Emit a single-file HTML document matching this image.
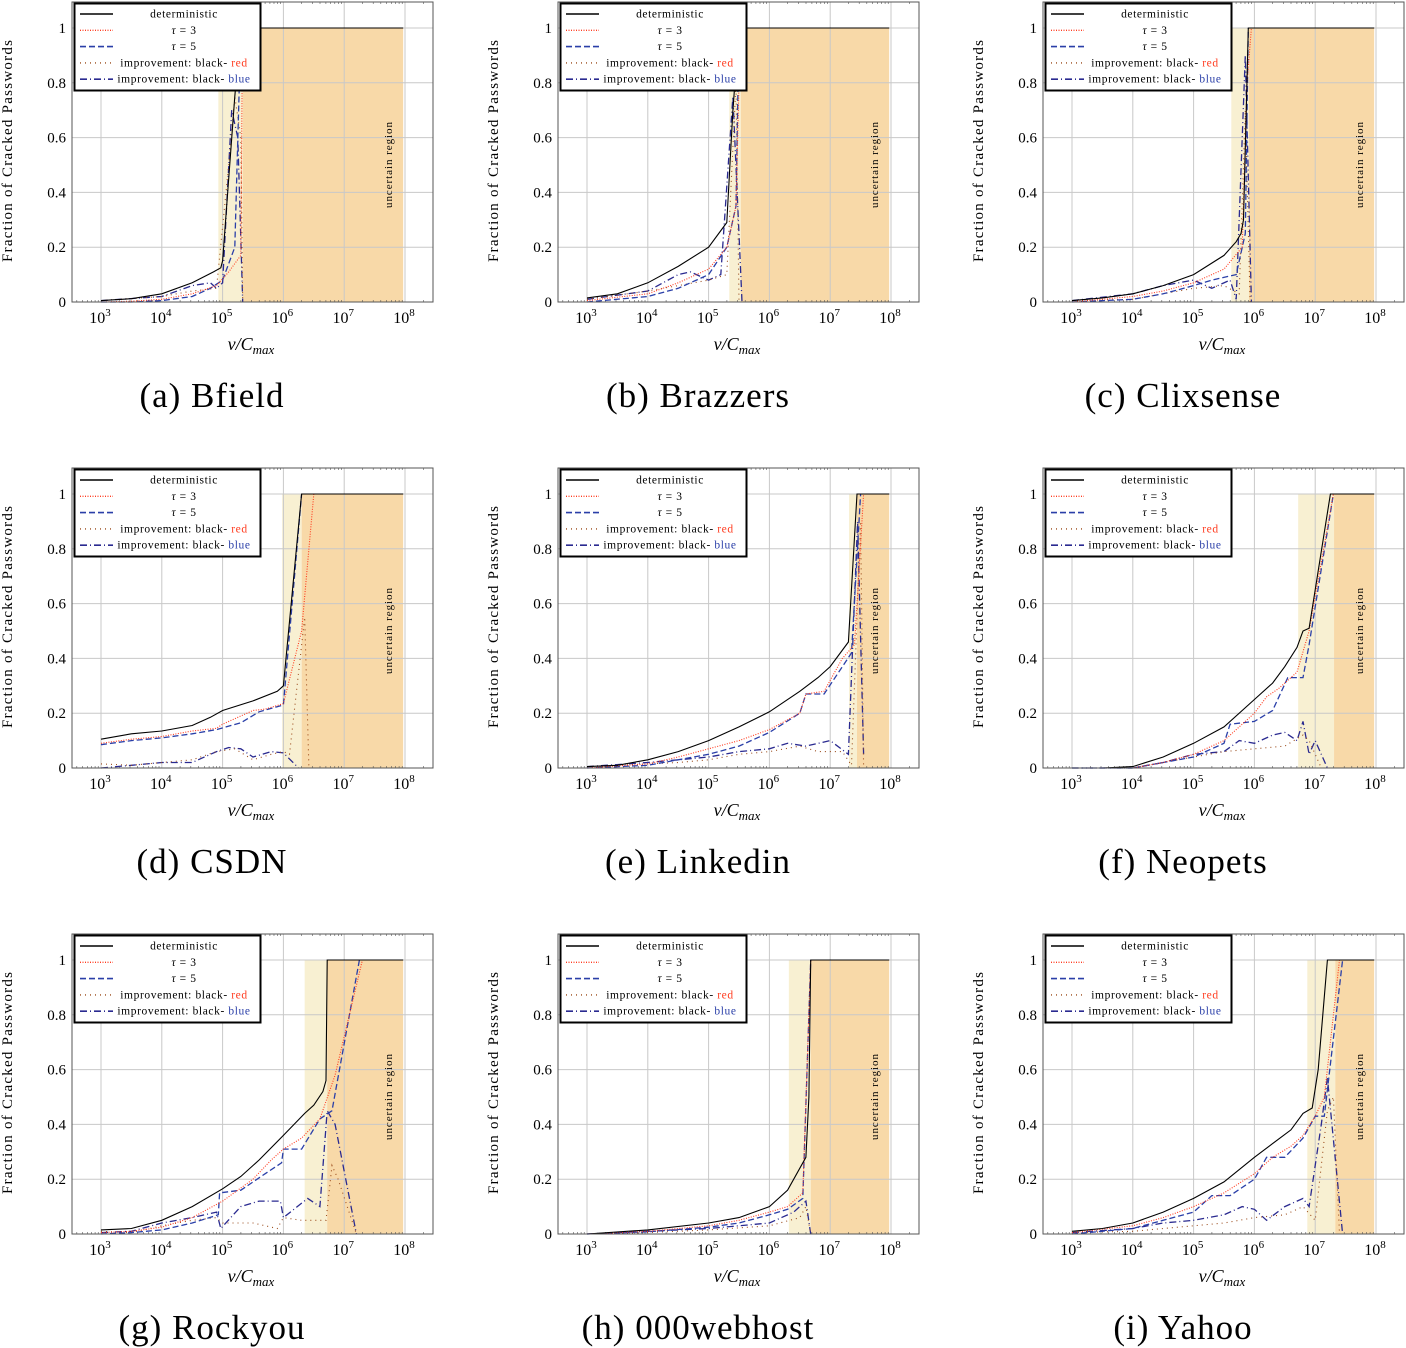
<!DOCTYPE html>
<html><head><meta charset="utf-8"><style>
body{margin:0;background:#fff}
svg{display:block;font-family:"Liberation Serif",serif}
</style></head><body>
<svg id="fig" width="1406" height="1348" viewBox="0 0 1406 1348"></svg>
<script>
// ----- data (x in log10 of v/Cmax, y fraction) -----
const panelNames = ["Bfield","Brazzers","Clixsense","CSDN","Linkedin","Neopets","Rockyou","000webhost","Yahoo"];
const panelLetters = ["a","b","c","d","e","f","g","h","i"];
const yellowStart = [4.93,5.34,5.62,5.98,7.31,6.72,6.35,6.32,6.87];
const orangeStart = [5.33,5.53,5.91,6.30,7.44,7.31,6.72,6.68,7.33];
const orangeEnd = 7.97;
const detX = [
 [3,3.5,4,4.5,4.85,4.97,5.0,5.2,5.3,7.97],
 [3,3.5,4,4.5,5,5.3,5.4,5.5,7.97],
 [3,3.5,4,4.5,5,5.5,5.7,5.78,5.82,5.9,7.97],
 [3,3.5,4,4.5,4.8,5,5.5,5.9,6.0,6.3,7.97],
 [3,3.5,4,4.5,5,5.5,6,6.5,6.8,7,7.3,7.44,7.97],
 [3,3.5,4,4.5,5,5.5,6,6.3,6.5,6.7,6.8,6.9,7.25,7.97],
 [3,3.5,4,4.5,5,5.3,5.6,6,6.35,6.5,6.65,6.7,6.72,7.97],
 [3,4,5,5.5,6,6.3,6.6,6.65,6.68,7.97],
 [3,3.5,4,4.5,5,5.5,6,6.3,6.6,6.8,6.95,7.05,7.2,7.97]];
const detY = [
 [0.005,0.012,0.03,0.07,0.11,0.125,0.15,0.75,1,1],
 [0.015,0.03,0.07,0.13,0.2,0.29,0.7,1,1],
 [0.005,0.015,0.03,0.06,0.1,0.17,0.22,0.25,0.3,1,1],
 [0.105,0.125,0.135,0.155,0.185,0.21,0.245,0.28,0.3,1,1],
 [0.005,0.01,0.03,0.06,0.1,0.15,0.205,0.28,0.33,0.37,0.46,1,1],
 [0,0,0.005,0.04,0.09,0.15,0.25,0.31,0.37,0.44,0.5,0.51,1,1],
 [0.015,0.02,0.05,0.1,0.165,0.21,0.27,0.36,0.44,0.47,0.52,0.56,1,1],
 [0,0.015,0.04,0.06,0.1,0.16,0.28,0.5,1,1],
 [0.01,0.02,0.04,0.08,0.13,0.19,0.28,0.33,0.38,0.44,0.46,0.6,1,1]];
const t3X = [
 [3,3.5,4,4.5,4.9,5.1,5.3,5.32,5.35],
 [3,4,4.5,5,5.3,5.45,5.5,5.55],
 [3,4,4.5,5,5.5,5.8,5.88,5.95],
 [3,3.5,4,4.5,4.9,5.0,5.5,5.7,6.0,6.3,6.5],
 [3,4,4.5,5,5.5,6,6.5,6.6,6.9,7.2,7.4,7.55],
 [3,4,4.5,5,5.5,5.8,6,6.2,6.4,6.6,6.7,6.9,7.3],
 [3,3.5,4,4.5,5,5.5,5.8,6.0,6.3,6.6,6.85,7.3],
 [3,4,5,5.5,6,6.3,6.55,6.68],
 [3,4,4.5,5,5.5,6,6.3,6.6,6.8,7,7.15,7.4]];
const t3Y = [
 [0,0.003,0.01,0.03,0.06,0.11,0.17,0.8,1],
 [0.005,0.03,0.07,0.12,0.2,0.35,0.8,1],
 [0,0.02,0.04,0.07,0.12,0.2,0.8,1],
 [0.09,0.105,0.115,0.135,0.145,0.16,0.21,0.215,0.235,0.5,1],
 [0,0.015,0.04,0.07,0.1,0.14,0.2,0.27,0.28,0.4,0.45,1],
 [0,0,0.02,0.05,0.1,0.16,0.2,0.26,0.29,0.33,0.35,0.5,1],
 [0.005,0.01,0.025,0.06,0.12,0.2,0.27,0.31,0.35,0.42,0.58,1],
 [0,0.01,0.03,0.05,0.08,0.1,0.15,1],
 [0.005,0.03,0.06,0.1,0.15,0.22,0.28,0.32,0.36,0.43,0.5,1]];
const t5X = [
 [3,3.5,4,4.5,4.8,5.0,5.2,5.27,5.3],
 [3,4,4.5,4.8,5,5.3,5.45,5.5],
 [3,4,4.5,5,5.3,5.7,5.85,5.9],
 [3,3.5,4,4.5,4.9,5.3,5.6,6.0,6.3],
 [3,4,4.5,5,5.5,6,6.5,6.6,6.9,7.2,7.35,7.5],
 [3,4,4.5,5,5.5,5.6,6,6.3,6.55,6.8,6.9,7.3],
 [3,3.5,4,4.5,4.93,4.95,5.3,5.7,5.97,6.0,6.3,6.6,6.8,7.25],
 [3,4,5,5.5,6,6.3,6.55,6.68],
 [3,4,4.5,5,5.3,5.6,6,6.2,6.5,6.8,7.0,7.15,7.45]];
const t5Y = [
 [0,0,0.005,0.02,0.05,0.08,0.2,0.75,1],
 [0,0.02,0.05,0.08,0.1,0.2,0.35,1],
 [0,0.01,0.03,0.06,0.08,0.1,0.25,1],
 [0.085,0.1,0.11,0.125,0.14,0.165,0.205,0.23,1],
 [0,0.01,0.03,0.05,0.08,0.13,0.2,0.27,0.27,0.37,0.42,1],
 [0,0,0.02,0.04,0.09,0.16,0.17,0.21,0.33,0.33,0.45,1],
 [0,0.005,0.015,0.04,0.07,0.15,0.16,0.22,0.26,0.31,0.31,0.42,0.45,1],
 [0,0.008,0.025,0.04,0.07,0.09,0.13,1],
 [0,0.02,0.05,0.08,0.14,0.14,0.2,0.28,0.28,0.35,0.43,0.43,1]];
const irX = [
 [3,4,4.5,4.9,5.1,5.2,5.3,5.33],
 [3,4,4.5,5,5.3,5.45,5.5],
 [3,4,4.5,5,5.5,5.75,5.85,5.93],
 [3,3.5,4,4.5,4.9,5.2,5.5,5.8,6.0,6.1,6.35,6.42],
 [3,4,4.5,5,5.5,6,6.5,6.8,7.2,7.35,7.5,7.55],
 [3,4,4.5,5,5.5,6,6.5,6.8,6.9,7.0,7.1],
 [3,3.5,4,4.5,4.9,5.0,5.5,5.9,6.0,6.3,6.7,6.8,6.9,7.2],
 [3,4,5,6,6.5,6.6,6.68],
 [3,4,4.5,5,5.5,6,6.5,6.8,7.0,7.2,7.3,7.4]];
const irY = [
 [0.005,0.02,0.04,0.05,0.5,0.75,0.6,0],
 [0.01,0.04,0.06,0.08,0.1,0.8,0],
 [0.005,0.01,0.03,0.05,0.06,0.03,0.7,0],
 [0.015,0.01,0.02,0.03,0.06,0.07,0.03,0.05,0.06,0.05,0.55,0],
 [0.005,0.015,0.02,0.03,0.05,0.06,0.08,0.06,0.06,0.01,0.9,0],
 [0,0,0.02,0.04,0.06,0.07,0.08,0.12,0.1,0.05,0],
 [0.01,0.005,0.03,0.05,0.06,0.04,0.04,0.02,0.06,0.05,0.05,0.25,0.2,0],
 [0,0.005,0.015,0.03,0.06,0.1,0],
 [0.005,0.01,0.02,0.03,0.04,0.06,0.07,0.1,0.05,0.45,0.5,0]];
const ibX = [
 [3,4,4.5,4.8,4.9,5.0,5.15,5.25,5.33],
 [3,4,4.5,4.7,5.0,5.2,5.4,5.55],
 [3,4,4.5,5,5.3,5.6,5.7,5.85,5.95],
 [3,3.5,4,4.5,4.9,5.1,5.3,5.5,5.8,6.0,6.25],
 [3,4,4.5,5,5.5,6,6.3,6.6,7,7.3,7.45,7.55],
 [3,4,4.5,5,5.5,5.75,6,6.3,6.5,6.7,6.8,6.9,7.0,7.2],
 [3,3.5,4,4.5,4.9,4.97,5.3,5.6,5.95,6.0,6.4,6.6,6.72,6.85,7.2],
 [3,4,5,6,6.4,6.6,6.68],
 [3,4,4.5,5,5.5,5.8,6,6.2,6.5,6.8,6.9,7.1,7.2,7.45]];
const ibY = [
 [0.005,0.02,0.06,0.07,0.05,0.07,0.7,0.6,0],
 [0.01,0.04,0.1,0.11,0.08,0.1,0.75,0],
 [0.005,0.03,0.06,0.08,0.05,0.08,0.01,0.9,0],
 [0,0.01,0.02,0.02,0.06,0.075,0.07,0.04,0.06,0.055,0],
 [0.005,0.02,0.03,0.04,0.06,0.07,0.09,0.08,0.1,0.05,0.9,0.05],
 [0,0,0.02,0.05,0.06,0.1,0.09,0.12,0.13,0.1,0.17,0.05,0.1,0],
 [0.005,0.01,0.04,0.06,0.08,0.02,0.1,0.12,0.12,0.06,0.13,0.1,0.45,0.4,0],
 [0,0.01,0.02,0.04,0.08,0.12,0],
 [0.005,0.02,0.04,0.05,0.07,0.1,0.09,0.05,0.1,0.13,0.1,0.4,0.57,0]];
const yTicks = [0,0.2,0.4,0.6,0.8,1];
const yTickLabels = ["0","0.2","0.4","0.6","0.8","1"];
const xTicks = [3,4,5,6,7,8];

const NS = "http://www.w3.org/2000/svg";
const svg = document.getElementById("fig");
function mk(tag, attrs, parent, text){
  const e = document.createElementNS(NS, tag);
  for (const k in attrs) e.setAttribute(k, attrs[k]);
  if (text !== undefined) e.textContent = text;
  (parent||svg).appendChild(e);
  return e;
}
const colOff = [0,486,971], rowOff = [0,466,932];
const styles = [
  {stroke:"#000", w:1.1, dash:""},
  {stroke:"#ff3b1f", w:1.1, dash:"1 1.5"},
  {stroke:"#2a3fa8", w:1.3, dash:"6 3"},
  {stroke:"#9a4a1a", w:1.1, dash:"1 4"},
  {stroke:"#2a2a90", w:1.3, dash:"7 3 1 3"}];
const legendText = ["deterministic","τ = 3","τ = 5","improvement: black- ","improvement: black- "];

for (let p = 0; p < 9; p++){
  const ox = colOff[p%3], oy = rowOff[Math.floor(p/3)];
  const X = v => ox + 101 + (v-3)*60.8;
  const Y = v => oy + 302 - v*274;
  const g = mk("g", {}, svg);
  
  
  const ys = mk("rect", {x:X(yellowStart[p]), y:Y(1), width:X(orangeStart[p])-X(yellowStart[p]), height:Y(0)-Y(1), fill:"#f8f0d2"}, g);
  
  
  const os = mk("rect", {x:X(orangeStart[p]), y:Y(1), width:X(orangeEnd)-X(orangeStart[p]), height:Y(0)-Y(1), fill:"#f8d9a8"}, g);
  
  
  const L = ox+72, R = ox+433, T = oy+2, B = oy+302;
  xTicks.forEach(t => {
    const gl = mk("line", {x1:X(t), x2:X(t), y1:T, y2:B, stroke:"#c8c8c8", "stroke-width":1}, g);
    
    
  });
  yTicks.forEach(t => {
    const gl = mk("line", {x1:L, x2:R, y1:Y(t), y2:Y(t), stroke:"#c8c8c8", "stroke-width":1}, g);
    
    
  });
  for (let d = 2; d <= 8; d++){
    for (let m = 2; m <= 9; m++){
      const v = d + Math.log10(m);
      if (X(v) > R || X(v) < L) continue;
      mk("line", {x1:X(v), x2:X(v), y1:B, y2:B-2, stroke:"#555", "stroke-width":0.6}, g);
      mk("line", {x1:X(v), x2:X(v), y1:T, y2:T+2, stroke:"#555", "stroke-width":0.6}, g);
    }
  }
  const sx = [detX[p], t3X[p], t5X[p], irX[p], ibX[p]];
  const sy = [detY[p], t3Y[p], t5Y[p], irY[p], ibY[p]];
  const sn = ["deterministic-line","tau3-line","tau5-line","improvement-red-line","improvement-blue-line"];
  for (let s = 4; s >= 0; s--){
    const pts = sx[s].map((v,i) => X(v).toFixed(1)+","+Y(sy[s][i]).toFixed(1)).join(" ");
    const pl = mk("polyline", {points:pts, fill:"none", stroke:styles[s].stroke, "stroke-width":styles[s].w, "stroke-dasharray":styles[s].dash}, g);
    
    
  }
  mk("rect", {x:L, y:T, width:R-L, height:B-T, fill:"none", stroke:"#555", "stroke-width":1}, g);
  yTicks.forEach((t,i) => {
    const tl = mk("text", {x:ox+66, y:Y(t)+5, "text-anchor":"end", "font-size":15}, g, yTickLabels[i]);
    
    
  });
  xTicks.forEach(t => {
    const tl = mk("text", {x:X(t)-1, y:oy+323, "text-anchor":"middle", "font-size":16}, g);
    
    
    mk("tspan", {}, tl, "10");
    mk("tspan", {dy:-7, "font-size":11}, tl, String(t));
  });
  const ut = mk("text", {x:0, y:0, transform:`translate(${ox+392},${oy+165}) rotate(-90)`, "text-anchor":"middle", "font-size":11, textLength:86}, g, "uncertain region");
  
  
  const yt = mk("text", {x:0, y:0, transform:`translate(${ox+12},${oy+151}) rotate(-90)`, "text-anchor":"middle", "font-size":15, textLength:222, lengthAdjust:"spacing"}, g, "Fraction of Cracked Passwords");
  
  
  const xt = mk("text", {x:ox+251, y:oy+350, "text-anchor":"middle", "font-size":18, "font-style":"italic"}, g);
  
  
  mk("tspan", {}, xt, "v/C");
  mk("tspan", {dy:4, "font-size":13}, xt, "max");
  const cap = mk("text", {x:ox+212, y:oy+407, "text-anchor":"middle", "font-size":35, "letter-spacing":"1"}, g, "(" + panelLetters[p] + ") " + panelNames[p]);
  
  
  const lg = mk("g", {}, g);
  
  
  mk("rect", {x:ox+74.5, y:oy+3.5, width:186, height:87, fill:"#fff", stroke:"#000", "stroke-width":2}, lg);
  for (let s = 0; s < 5; s++){
    const ly = oy + 14 + s*16.3;
    const e = mk("g", {}, lg);
    
    
    mk("line", {x1:ox+80, x2:ox+113, y1:ly, y2:ly, stroke:styles[s].stroke, "stroke-width":styles[s].w+0.3, "stroke-dasharray":styles[s].dash}, e);
    const tx = mk("text", {x:ox+184, y:ly+3.5, "text-anchor":"middle", "font-size":11.5, "letter-spacing":"0.6"}, e);
    if (s === 1 || s === 2){
      mk("tspan", {"font-style":"italic"}, tx, "τ");
      mk("tspan", {}, tx, " = " + (s===1?"3":"5"));
    } else {
      mk("tspan", {}, tx, legendText[s]);
      if (s === 3) mk("tspan", {fill:"#ff3b1f"}, tx, "red");
      if (s === 4) mk("tspan", {fill:"#2a3fa8"}, tx, "blue");
    }
  }
}
</script>
</body></html>
